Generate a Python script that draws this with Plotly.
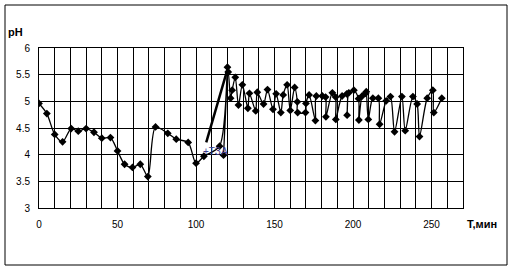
import plotly.graph_objects as go

# ---- data (time in minutes, pH) ----
t_min = [0, 5, 10, 15, 20.5, 25, 30, 35, 40, 45.5, 50, 54.5, 59.5, 64.5, 69.3, 74.2,
         82, 87.4, 95, 100, 105, 115, 120, 117.5, 120.5, 122, 123, 125, 127, 129.5,
         133, 134, 138, 139, 143, 145.5, 149, 151, 154, 155.5, 158, 160, 162.8, 164.5,
         164.7, 169.7, 170, 172, 176, 176.6, 180.4, 182.5, 182.7, 186.8, 188.9, 189,
         193, 196, 196.2, 197.3, 200.5, 203.5, 203.7, 205.8, 208, 208.4, 209.7, 212.6,
         216.1, 216.9, 221.1, 223.8, 226.4, 231.1, 233.2, 238.1, 240.8, 242.3, 247.2,
         250.8, 251.4, 256.5]
ph = [4.96, 4.77, 4.38, 4.24, 4.49, 4.44, 4.49, 4.42, 4.31, 4.32, 4.07, 3.82, 3.76,
      3.82, 3.59, 4.52, 4.40, 4.29, 4.23, 3.84, 3.97, 4.16, 5.64, 3.99, 5.55, 5.06,
      5.21, 5.45, 4.93, 5.31, 4.87, 5.15, 4.82, 5.17, 4.95, 5.22, 4.85, 5.14, 4.79,
      5.12, 5.31, 4.83, 5.26, 4.99, 4.79, 4.79, 4.96, 5.12, 4.64, 5.10, 5.10, 5.08,
      4.71, 5.16, 5.08, 4.66, 5.10, 5.14, 4.74, 5.16, 5.21, 5.05, 4.65, 5.10, 5.15,
      5.18, 4.66, 5.06, 5.06, 4.57, 5.01, 5.09, 4.43, 5.09, 4.45, 5.09, 4.95, 4.34,
      5.06, 5.21, 4.79, 5.06]

x_ticks = [0, 50, 100, 150, 200, 250]
y_ticks = [3, 3.5, 4, 4.5, 5, 5.5, 6]

# annotation arrow (from label towards the peak), in data units
arrow_t = [106.5, 120]
arrow_ph = [4.23, 5.6]
label_text = "+ТЗА"
label_pos = (103.0, 4.06)

FONT = "Liberation Sans, Arial, sans-serif"

fig = go.Figure()
fig.add_trace(go.Scatter(
    x=t_min, y=ph, mode="lines",
    line=dict(color="black", width=1.3, shape="spline", smoothing=0.8),
    showlegend=False, hoverinfo="skip"))
fig.add_trace(go.Scatter(
    x=t_min, y=ph, mode="markers",
    marker=dict(symbol="diamond", size=6, color="black", line=dict(width=0)),
    showlegend=False, hoverinfo="skip"))

fig.add_shape(type="line", xref="x", yref="y",
              x0=arrow_t[0], y0=arrow_ph[0], x1=arrow_t[1], y1=arrow_ph[1],
              line=dict(color="black", width=2.5))

# outer frame
L, R, T, B, W, H = 39, 49, 48, 63, 512, 271
pw, ph_ = W - L - R, H - T - B
fig.add_shape(type="rect", xref="paper", yref="paper",
              x0=(5 - L) / pw, x1=(507 - L) / pw,
              y0=(T + ph_ - 265) / ph_, y1=(T + ph_ - 5) / ph_,
              line=dict(color="black", width=1), fillcolor="rgba(0,0,0,0)", layer="below")

fig.add_annotation(text="<b>pH</b>", xref="paper", yref="paper",
                   x=(6 - L) / pw, y=(T + ph_ - 31.5) / ph_,
                   xanchor="left", yanchor="middle", showarrow=False,
                   font=dict(family=FONT, size=11, color="black"))
fig.add_annotation(text="<b>T,мин</b>", xref="paper", yref="paper",
                   x=(465 - L) / pw, y=(T + ph_ - 224) / ph_,
                   xanchor="left", yanchor="middle", showarrow=False,
                   font=dict(family=FONT, size=11, color="black"))
fig.add_annotation(text=label_text, xref="x", yref="y",
                   x=label_pos[0], y=label_pos[1],
                   xanchor="left", yanchor="middle", showarrow=False,
                   font=dict(family=FONT, size=10, color="#3a3a8c"))

fig.update_xaxes(range=[0, 270], tickvals=x_ticks, showgrid=True,
                 gridcolor="black", gridwidth=1,
                 minor=dict(dtick=10, tick0=0, showgrid=True, gridcolor="black", gridwidth=1),
                 showline=True, linecolor="black", linewidth=1, mirror=True,
                 zeroline=False, ticks="", ticklabelstandoff=7,
                 tickfont=dict(family=FONT, size=10, color="black"))
fig.update_yaxes(range=[3, 6], tickvals=y_ticks, showgrid=True,
                 gridcolor="black", gridwidth=1,
                 showline=True, linecolor="black", linewidth=1, mirror=True,
                 zeroline=False, ticks="", ticklabelstandoff=6,
                 tickfont=dict(family=FONT, size=10, color="black"))

fig.update_layout(width=W, height=H, margin=dict(l=L, r=R, t=T, b=B),
                  paper_bgcolor="white", plot_bgcolor="white",
                  font=dict(family=FONT))

fig.write_html("out.html")
